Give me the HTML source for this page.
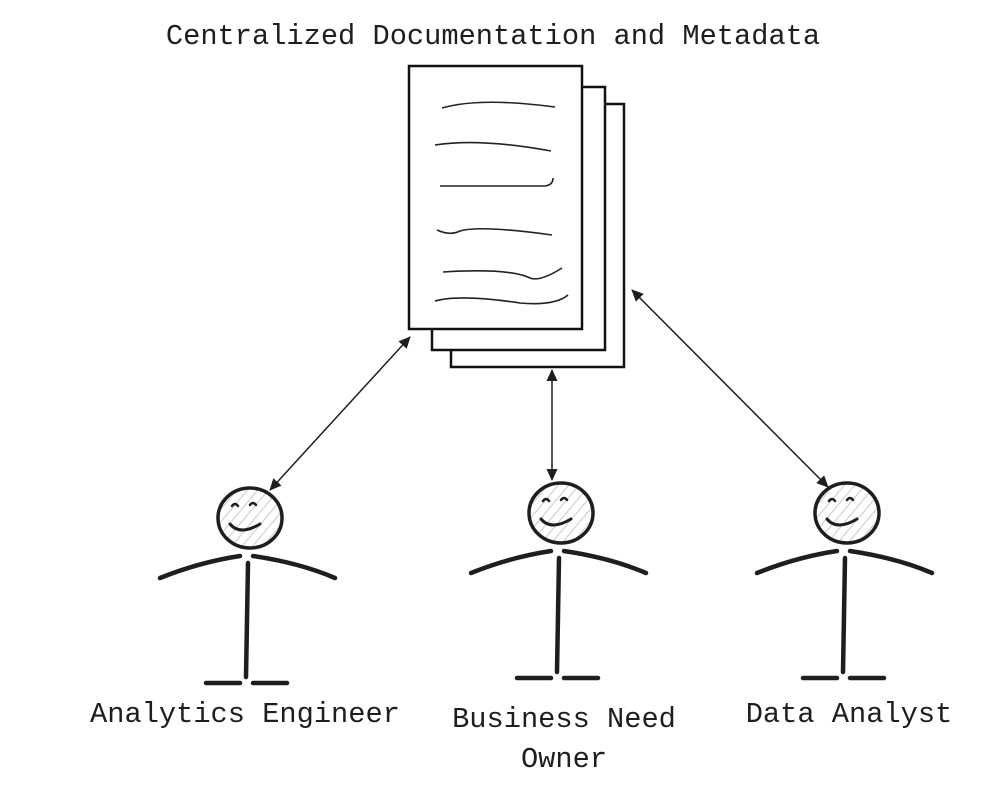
<!DOCTYPE html>
<html><head><style>
body{margin:0;background:#fff;width:1000px;height:788px;overflow:hidden}
</style></head><body>
<svg width="1000" height="788" viewBox="0 0 1000 788" xmlns="http://www.w3.org/2000/svg">
<defs>
<marker id="a" markerWidth="12" markerHeight="12" refX="11" refY="6" orient="auto-start-reverse" markerUnits="userSpaceOnUse"><path d="M0,0.5 L12,6 L0,11.5 Z" fill="#1e1e1e"/></marker>
<pattern id="h" width="8" height="8" patternUnits="userSpaceOnUse" patternTransform="rotate(40)"><line x1="0" y1="0" x2="0" y2="8" stroke="#c8c8d0" stroke-width="2"/></pattern>
<g id="fig" stroke="#1e1e1e" fill="none" stroke-linecap="round">
<ellipse cx="250" cy="518" rx="32" ry="30" fill="url(#h)" stroke-width="3.5"/>
<path d="M232,506 q3,-4 6,0 M250,505 q3,-4 6,0" stroke-width="2.5"/>
<path d="M230,524 q10,12 30,0" stroke-width="3"/>
<path d="M160,578 Q200,562 240,556 M253,556 Q300,563 335,578" stroke-width="4.5"/>
<path d="M248,563 L246,677" stroke-width="4.5"/>
<path d="M206,683 L240,683 M253,683 L287,683" stroke-width="4.5"/>
</g>
</defs>
<text x="493" y="44" text-anchor="middle" font-family="Liberation Mono, monospace" font-size="28.7" fill="#1e1e1e">Centralized Documentation and Metadata</text>
<g stroke="#111" stroke-width="2.5" fill="#fff">
<rect x="451" y="104" width="173" height="263"/>
<rect x="432" y="87" width="173" height="263"/>
<rect x="409" y="66" width="173" height="263"/>
</g>
<g stroke="#222" stroke-width="1.6" fill="none">
<path d="M442,108 Q480,97 555,107"/>
<path d="M435,145 Q480,138 551,151"/>
<path d="M440,186 L545,186 Q553,185 553,178"/>
<path d="M437,230 Q450,236 460,231 Q480,225 552,235"/>
<path d="M443,272 Q510,268 530,278 Q540,282 562,268"/>
<path d="M435,301 Q460,294 520,303 Q555,306 568,295"/>
</g>
<g stroke="#1e1e1e" stroke-width="1.5" fill="none">
<line x1="410" y1="337" x2="270" y2="490" marker-start="url(#a)" marker-end="url(#a)"/>
<line x1="552" y1="370" x2="552" y2="480" marker-start="url(#a)" marker-end="url(#a)"/>
<line x1="632" y1="290" x2="828" y2="487" marker-start="url(#a)" marker-end="url(#a)"/>
</g>
<use href="#fig"/>
<use href="#fig" transform="translate(311,-5)"/>
<use href="#fig" transform="translate(597,-5)"/>
<g font-family="Liberation Mono, monospace" font-size="28.7" fill="#1e1e1e" text-anchor="middle">
<text x="245" y="722">Analytics Engineer</text>
<text x="564" y="727">Business Need</text>
<text x="564" y="767">Owner</text>
<text x="849" y="722">Data Analyst</text>
</g>
</svg>
</body></html>
